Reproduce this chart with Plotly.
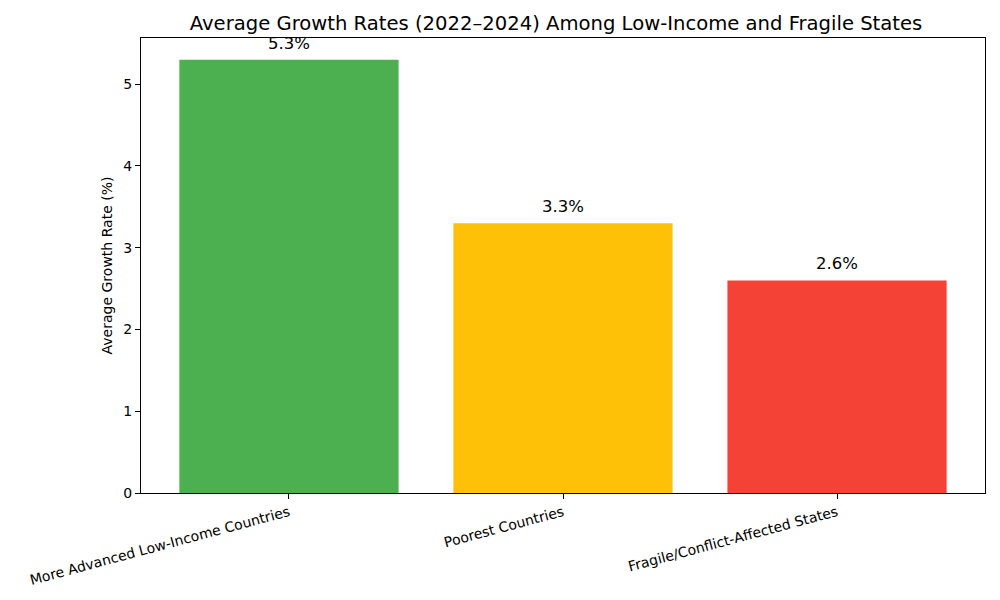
import plotly.graph_objects as go

categories = ["More Advanced Low-Income Countries", "Poorest Countries", "Fragile/Conflict-Affected States"]
growth = [5.3, 3.3, 2.6]
bar_colors = ["#4CAF50", "#FFC107", "#F44336"]
labels = [f"{v}%" for v in growth]

font = dict(family="DejaVu Sans", size=14, color="black")

fig = go.Figure()
fig.add_trace(go.Bar(
    x=list(range(len(categories))),
    y=growth,
    marker=dict(color=bar_colors, line=dict(width=0)),
    width=0.8,
    showlegend=False,
))

# value labels above each bar
for i, (v, t) in enumerate(zip(growth, labels)):
    fig.add_annotation(x=i, y=v, text=t, showarrow=False, yanchor="bottom",
                       yshift=5, font=dict(family="DejaVu Sans", size=16.5, color="black"))

# the page body adds an ~8px offset, margins compensate for it
fig.update_layout(
    width=1000, height=600,
    margin=dict(l=133, r=23, t=30, b=115, autoexpand=False),
    plot_bgcolor="white", paper_bgcolor="white",
    font=font,
    title=dict(text="Average Growth Rates (2022–2024) Among Low-Income and Fragile States",
               x=0.548, xanchor="center", xref="container",
               y=0.975, yanchor="middle", yref="container",
               font=dict(family="DejaVu Sans", size=19.6, color="black")),
)
fig.update_xaxes(
    range=[-0.54, 2.54], automargin=False,
    tickmode="array", tickvals=list(range(len(categories))), ticktext=categories,
    tickangle=-15, ticks="outside", ticklen=5, tickcolor="black",
    showline=True, linecolor="black", mirror=True, showgrid=False, zeroline=False,
    tickfont=dict(family="DejaVu Sans", size=14, color="black"),
)
fig.update_yaxes(
    range=[0, 5.565], automargin=False,
    tickmode="array", tickvals=[0, 1, 2, 3, 4, 5],
    ticks="outside", ticklen=5, tickcolor="black",
    showline=True, linecolor="black", mirror=True, showgrid=False, zeroline=False,
    tickfont=dict(family="DejaVu Sans", size=14, color="black"),
    title=dict(text="Average Growth Rate (%)", standoff=7,
               font=dict(family="DejaVu Sans", size=14, color="black")),
)

fig.write_html("out.html")
